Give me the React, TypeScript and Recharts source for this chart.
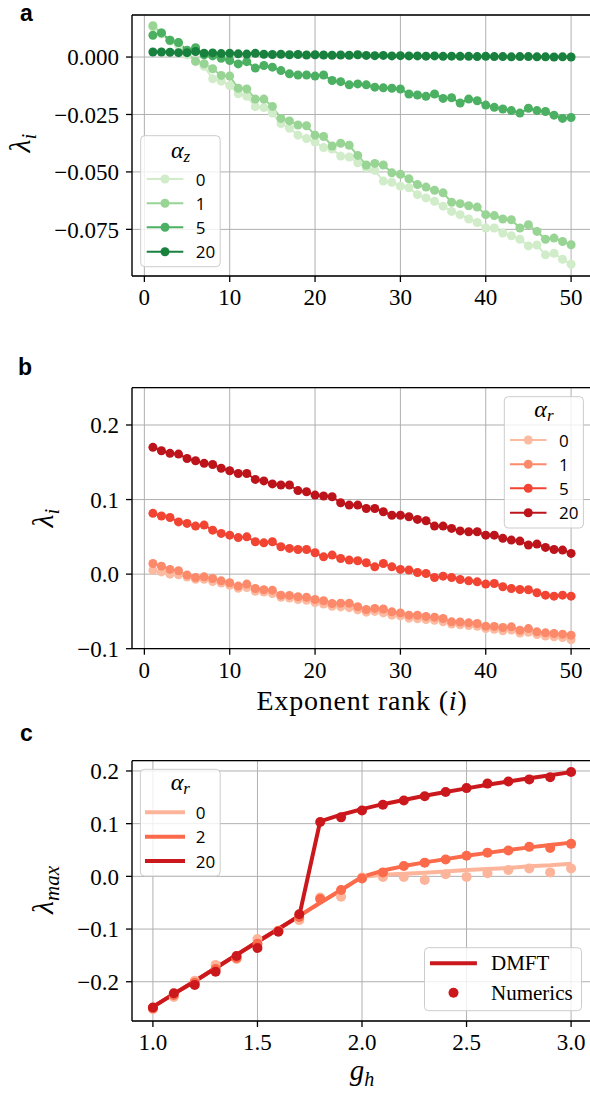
import React from 'react';
import { CartesianGrid, ComposedChart, Legend, Line, LineChart, ReferenceLine, XAxis, YAxis } from 'recharts';

const SERIF = '"Liberation Serif", "Times New Roman", serif';
const SANS = '"Open Sans", "DejaVu Sans", sans-serif';
const BOLD_SANS = '"Liberation Sans", Arial, sans-serif';
const GRID = '#b0b0b0';

// ---- panels a & b: exponent rank i ----
const RANKS = [
  1, 2, 3, 4, 5, 6, 7, 8, 9, 10, 11, 12, 13, 14, 15, 16, 17, 18, 19, 20, 21, 22, 23, 24, 25,
  26, 27, 28, 29, 30, 31, 32, 33, 34, 35, 36, 37, 38, 39, 40, 41, 42, 43, 44, 45, 46, 47, 48, 49, 50,
];
const RANK_TICKS = [0, 10, 20, 30, 40, 50];

// panel a, alpha_z = 0, 1, 5, 20
const ALPHA_Z = ['0', '1', '5', '20'];
const A_Z0 = [
  0.013, 0.01, 0.007, 0.005, 0.001, -0.002, -0.004, -0.0095, -0.0105, -0.0124, -0.016, -0.0171, -0.0216,
  -0.022, -0.0244, -0.029, -0.031, -0.034, -0.0355, -0.037, -0.0394, -0.04, -0.0431, -0.0435, -0.046,
  -0.0482, -0.0493, -0.054, -0.0545, -0.0562, -0.0569, -0.0599, -0.0613, -0.0628, -0.0649, -0.0672,
  -0.0686, -0.0705, -0.072, -0.0744, -0.0744, -0.0766, -0.0778, -0.0793, -0.0822, -0.0818, -0.0861,
  -0.0854, -0.088, -0.0902,
];
const A_Z1 = [
  0.0136, 0.0105, 0.0073, 0.0063, 0.002, -0.0018, -0.0029, -0.0051, -0.008, -0.0083, -0.0136, -0.0139,
  -0.0183, -0.0183, -0.0215, -0.0267, -0.0278, -0.0296, -0.0299, -0.034, -0.0346, -0.0387, -0.0375,
  -0.0384, -0.0428, -0.047, -0.0463, -0.047, -0.0504, -0.051, -0.053, -0.0555, -0.0566, -0.058, -0.0591,
  -0.0632, -0.0638, -0.0647, -0.0653, -0.0686, -0.069, -0.0705, -0.0708, -0.0744, -0.073, -0.0759,
  -0.0793, -0.0788, -0.0803, -0.0817,
];
const A_Z5 = [
  0.0095, 0.0105, 0.0073, 0.0063, 0.003, 0.0041, 0.001, 0.0005, -0.0005, -0.0015, -0.003, -0.002, -0.0048,
  -0.0037, -0.0044, -0.0059, -0.0073, -0.0078, -0.0078, -0.0083, -0.0078, -0.0102, -0.0107, -0.0121,
  -0.0117, -0.0121, -0.0131, -0.0134, -0.0136, -0.0139, -0.0161, -0.0165, -0.0171, -0.0161, -0.018,
  -0.0177, -0.02, -0.0183, -0.019, -0.0209, -0.0219, -0.0226, -0.0233, -0.0244, -0.0223, -0.0233,
  -0.0237, -0.0253, -0.0267, -0.0263,
];
const A_Z20 = [
  0.0022, 0.0022, 0.0021, 0.0019, 0.0019, 0.0024, 0.0017, 0.0018, 0.0015, 0.0016, 0.0014, 0.0013, 0.0016,
  0.0012, 0.0011, 0.0012, 0.001, 0.0011, 0.0009, 0.001, 0.0009, 0.0008, 0.0009, 0.0008, 0.001, 0.0007,
  0.0006, 0.0007, 0.0005, 0.0006, 0.0005, 0.0005, 0.0004, 0.0005, 0.0003, 0.0004, 0.0003, 0.0003, 0.0002,
  0.0003, 0.0002, 0.0002, 0.0001, 0.0002, 0.0002, 0.0001, 0.0001, 0.0, 0.0001, 0.0,
];
const A_TICKS = [-0.075, -0.05, -0.025, 0];

// panel b, alpha_r = 0, 1, 5, 20
const ALPHA_R_B = ['0', '1', '5', '20'];
const B_R0 = [
  0.005, 0.003, 0.0, -0.001, -0.004, -0.007, -0.007, -0.01, -0.012, -0.015, -0.019, -0.018, -0.023, -0.024,
  -0.026, -0.031, -0.032, -0.034, -0.035, -0.038, -0.04, -0.043, -0.044, -0.045, -0.048, -0.051, -0.05,
  -0.052, -0.055, -0.056, -0.059, -0.06, -0.061, -0.062, -0.064, -0.067, -0.068, -0.069, -0.07, -0.073,
  -0.074, -0.076, -0.075, -0.079, -0.078, -0.081, -0.083, -0.084, -0.085, -0.088,
];
const B_R1 = [
  0.0143, 0.0107, 0.0063, 0.0045, -0.0013, -0.0045, -0.0036, -0.0058, -0.009, -0.0116, -0.016, -0.0134,
  -0.0192, -0.021, -0.0215, -0.0282, -0.0285, -0.0304, -0.031, -0.034, -0.0357, -0.0394, -0.039, -0.0392,
  -0.0438, -0.0474, -0.046, -0.0468, -0.0506, -0.052, -0.055, -0.0552, -0.0568, -0.0577, -0.0595, -0.064,
  -0.0642, -0.0653, -0.0662, -0.0698, -0.0701, -0.0716, -0.0707, -0.0752, -0.073, -0.0774, -0.0787,
  -0.0796, -0.0805, -0.0819,
];
const B_R5 = [
  0.0815, 0.078, 0.076, 0.07, 0.068, 0.0644, 0.0658, 0.059, 0.0546, 0.0523, 0.049, 0.05, 0.0434, 0.042,
  0.0434, 0.0367, 0.0345, 0.033, 0.033, 0.0286, 0.0232, 0.0255, 0.021, 0.0188, 0.0179, 0.0152, 0.0098,
  0.0143, 0.0098, 0.0063, 0.0054, 0.0022, 0.0009, -0.0045, -0.0027, -0.0045, -0.0072, -0.009, -0.0103,
  -0.0134, -0.0125, -0.017, -0.0192, -0.0206, -0.021, -0.025, -0.0282, -0.0295, -0.0282, -0.0295,
];
const B_R20 = [
  0.17, 0.1655, 0.162, 0.161, 0.155, 0.152, 0.1486, 0.147, 0.142, 0.1387, 0.135, 0.135, 0.127, 0.125, 0.121,
  0.1195, 0.1195, 0.112, 0.1105, 0.106, 0.1047, 0.1038, 0.0957, 0.0926, 0.0926, 0.088, 0.088, 0.0837,
  0.079, 0.079, 0.077, 0.0734, 0.0716, 0.0644, 0.0644, 0.0613, 0.058, 0.0568, 0.0568, 0.0523, 0.0523,
  0.048, 0.0456, 0.0443, 0.039, 0.0403, 0.0358, 0.033, 0.0322, 0.0278,
];
const B_TICKS = [-0.1, 0, 0.1, 0.2];

// ---- panel c: g_h sweep, alpha_r = 0, 2, 20 ----
const G_H = [1.0, 1.1, 1.2, 1.3, 1.4, 1.5, 1.6, 1.7, 1.8, 1.9, 2.0, 2.1, 2.2, 2.3, 2.4, 2.5, 2.6, 2.7, 2.8, 2.9, 3.0];
const ALPHA_R_C = ['0', '2', '20'];
const DMFT_0 = [
  -0.2476, -0.223, -0.199, -0.174, -0.149, -0.124, -0.1, -0.075, -0.05, -0.026, -0.001, 0.003, 0.005,
  0.007, 0.009, 0.012, 0.014, 0.016, 0.019, 0.021, 0.024,
];
const DMFT_2 = [
  -0.2476, -0.223, -0.199, -0.174, -0.149, -0.124, -0.1, -0.075, -0.05, -0.026, -0.001, 0.011, 0.0195,
  0.0265, 0.0327, 0.039, 0.0446, 0.05, 0.055, 0.0595, 0.064,
];
const DMFT_20 = [
  -0.2476, -0.223, -0.199, -0.174, -0.149, -0.124, -0.1, -0.075, 0.1045, 0.117, 0.1275, 0.137, 0.145,
  0.153, 0.16, 0.167, 0.174, 0.18, 0.186, 0.192, 0.1978,
];
const NUM_0 = [
  -0.252, -0.229, -0.198, -0.168, -0.157, -0.119, -0.104, -0.083, -0.04, -0.0385, -0.002, -0.001, -0.001,
  -0.007, 0.004, -0.001, 0.006, 0.012, 0.015, 0.0075, 0.015,
];
const NUM_2 = [
  -0.25, -0.225, -0.202, -0.176, -0.155, -0.128, -0.103, -0.077, -0.043, -0.026, -0.004, 0.0075, 0.0195,
  0.026, 0.032, 0.039, 0.045, 0.049, 0.056, 0.054, 0.0617,
];
const NUM_20 = [
  -0.249, -0.222, -0.206, -0.181, -0.151, -0.136, -0.105, -0.072, 0.103, 0.112, 0.125, 0.136, 0.144, 0.152,
  0.16, 0.1675, 0.176, 0.18, 0.184, 0.188, 0.198,
];
const C_X_TICKS = [1.0, 1.5, 2.0, 2.5, 3.0];
const C_Y_TICKS = [-0.2, -0.1, 0, 0.1, 0.2];

const GREENS = ['#d0ecc9', '#98d494', '#4bb062', '#17813d'];
const REDS_B = ['#fcbba1', '#fc8a6a', '#f14432', '#bc141a'];
const REDS_C = ['#fcb59a', '#fb6a4a', '#cb181d'];

const dataA = RANKS.map((i, k) => ({ i, s0: A_Z0[k], s1: A_Z1[k], s2: A_Z5[k], s3: A_Z20[k] }));
const dataB = RANKS.map((i, k) => ({ i, s0: B_R0[k], s1: B_R1[k], s2: B_R5[k], s3: B_R20[k] }));
const dataC = G_H.map((g, k) => ({
  g,
  d0: DMFT_0[k], d1: DMFT_2[k], d2: DMFT_20[k],
  n0: NUM_0[k], n1: NUM_2[k], n2: NUM_20[k],
}));

const serif = (size: number, extra: React.CSSProperties = {}): React.CSSProperties => ({
  fontFamily: SERIF, fontSize: size, fill: '#000', ...extra,
});
const minus = (v: number, digits: number) => (v < 0 ? '\u2212' : '') + Math.abs(v).toFixed(digits);

// tick renderers with the serif face forced through inline style
const xTick = (fmt: (v: number) => string) => (props: any) => (
  <text x={props.x} y={props.y} dy="0.71em" textAnchor="middle" style={serif(23)}>{fmt(props.payload.value)}</text>
);
const yTick = (fmt: (v: number) => string) => (props: any) => (
  <text x={props.x} y={props.y} dy="0.355em" textAnchor="end" style={serif(23)}>{fmt(props.payload.value)}</text>
);

const yLabel = (x: number, y: number, sub: string) => () => (
  <text x={x} y={y} transform={`rotate(-90 ${x} ${y})`} textAnchor="middle" style={serif(30, { fontStyle: 'italic' })}>
    λ<tspan style={{ fontSize: 21 }} dy={6}>{sub}</tspan>
  </text>
);

type Box = { x: number; y: number; w: number; h: number };

function Frame({ x, y, w, h }: Box) {
  return <rect x={x} y={y} width={w} height={h} rx={4} fill="#fff" fillOpacity={0.8} stroke="#cccccc" strokeWidth={1} />;
}

function Title({ x, y, sub }: { x: number; y: number; sub: string }) {
  return (
    <text x={x} y={y} textAnchor="middle" style={serif(24, { fontStyle: 'italic' })}>
      α<tspan style={{ fontSize: 17 }} dy={4}>{sub}</tspan>
    </text>
  );
}

const sansStyle: React.CSSProperties = { fontFamily: SANS, fontSize: 17, fill: '#000' };
const letterStyle: React.CSSProperties = { fontFamily: BOLD_SANS, fontWeight: 'bold', fontSize: 23, fill: '#000' };

function MarkerLegend({ box, titleX, titleY, sub, labels, colors, rows, x1, x2, textX }: {
  box: Box; titleX: number; titleY: number; sub: string; labels: string[]; colors: string[];
  rows: number[]; x1: number; x2: number; textX: number;
}) {
  return (
    <g>
      <Frame {...box} />
      <Title x={titleX} y={titleY} sub={sub} />
      {labels.map((lab, k) => (
        <g key={lab}>
          <line x1={x1} x2={x2} y1={rows[k]} y2={rows[k]} stroke={colors[k]} strokeWidth={2} />
          <circle cx={(x1 + x2) / 2} cy={rows[k]} r={4.5} fill={colors[k]} />
          <text x={textX} y={rows[k]} dominantBaseline="central" style={sansStyle}>{lab}</text>
        </g>
      ))}
    </g>
  );
}

function OverlayA() {
  return (
    <svg width={600} height={340} style={{ display: 'block', overflow: 'visible' }}>
      <text x={20} y={21} style={letterStyle}>a</text>
      <MarkerLegend
        box={{ x: 140.7, y: 135.7, w: 79.5, h: 131 }}
        titleX={180.5} titleY={158} sub="z"
        labels={ALPHA_Z} colors={GREENS} rows={[179, 203.3, 227.3, 251.7]}
        x1={146.7} x2={183.3} textX={195.7}
      />
    </svg>
  );
}

function OverlayB() {
  return (
    <svg width={600} height={380} style={{ display: 'block', overflow: 'visible' }}>
      <text x={18} y={35} style={letterStyle}>b</text>
      <MarkerLegend
        box={{ x: 504.3, y: 56.7, w: 79.1, h: 131.3 }}
        titleX={543.9} titleY={77} sub="r"
        labels={ALPHA_R_B} colors={REDS_B} rows={[100, 124.3, 148.3, 172.7]}
        x1={510} x2={546.5} textX={559}
      />
    </svg>
  );
}

function OverlayC() {
  const rows = [92.3, 116.7, 141];
  return (
    <svg width={600} height={373} style={{ display: 'block', overflow: 'visible' }}>
      <text x={20} y={21} style={letterStyle}>c</text>
      <Frame x={140.4} y={49.3} w={79.8} h={106.7} />
      <Title x={180.3} y={70} sub="r" />
      {ALPHA_R_C.map((lab, k) => (
        <g key={lab}>
          <line x1={145} x2={185} y1={rows[k]} y2={rows[k]} stroke={REDS_C[k]} strokeWidth={4} />
          <text x={195.7} y={rows[k]} dominantBaseline="central" style={sansStyle}>{lab}</text>
        </g>
      ))}
      <Frame x={424.5} y={227.7} w={157} h={63} />
      <line x1={430} x2={476.9} y1={243.3} y2={243.3} stroke={REDS_C[2]} strokeWidth={4} />
      <text x={491} y={243.3} dominantBaseline="central" style={serif(21)}>DMFT</text>
      <circle cx={453.5} cy={272.7} r={5} fill={REDS_C[2]} />
      <text x={491} y={272.7} dominantBaseline="central" style={serif(21)}>Numerics</text>
    </svg>
  );
}

const overlayLegend = (h: number, Overlay: () => React.ReactElement) => (
  <Legend
    layout="vertical"
    align="center"
    verticalAlign="middle"
    wrapperStyle={{ left: 0, top: 0, width: 600, height: h, pointerEvents: 'none' }}
    content={() => <Overlay />}
  />
);

function RankPanel({ data, height, top, yDomain, yTicks, digits, colors, yLab, xLabel, Overlay }: {
  data: typeof dataA; height: number; top: number; yDomain: [number, number]; yTicks: number[];
  digits: number; colors: string[]; yLab: [number, number]; xLabel: boolean; Overlay: () => React.ReactElement;
}) {
  const axisH = xLabel ? 60 : 40;
  const plotBottom = height - top - 261;
  return (
    <LineChart width={600} height={height} data={data} margin={{ top, right: 8, bottom: plotBottom - axisH, left: 0 }}>
      <CartesianGrid stroke={GRID} strokeWidth={1} />
      <XAxis
        dataKey="i" type="number" domain={[-1.45, 52.45]} allowDataOverflow ticks={RANK_TICKS} interval={0}
        height={axisH} tickSize={6} tickMargin={7} tick={xTick((v) => String(v))} stroke="#000" strokeWidth={1.3}
        label={xLabel ? () => (
          <text x={362} y={370} textAnchor="middle" style={serif(28, { letterSpacing: 0.8 })}>
            Exponent rank (<tspan style={{ fontStyle: 'italic' }}>i</tspan>)
          </text>
        ) : undefined}
      />
      <YAxis
        type="number" domain={yDomain} allowDataOverflow ticks={yTicks} interval={0} width={132}
        tickSize={6} tickMargin={7} tick={yTick((v) => minus(v, digits))} stroke="#000" strokeWidth={1.3}
        label={yLabel(yLab[0], yLab[1], 'i')}
      />
      <ReferenceLine y={yDomain[1]} stroke="#000" strokeWidth={1.3} />
      {['s0', 's1', 's2', 's3'].map((key, k) => (
        <Line
          key={key} dataKey={key} type="linear" stroke={colors[k]} strokeWidth={2}
          dot={{ r: 4.5, fill: colors[k], stroke: 'none' }} activeDot={false} isAnimationActive={false}
        />
      ))}
      {overlayLegend(height, Overlay)}
    </LineChart>
  );
}

function PanelC() {
  return (
    <ComposedChart width={600} height={373} data={dataC} margin={{ top: 40.7, right: 8, bottom: 12, left: 0 }}>
      <CartesianGrid stroke={GRID} strokeWidth={1} />
      <XAxis
        dataKey="g" type="number" domain={[0.9, 3.1]} allowDataOverflow ticks={C_X_TICKS} interval={0}
        height={60} tickSize={6} tickMargin={7} tick={xTick((v) => v.toFixed(1))} stroke="#000" strokeWidth={1.3}
        label={() => (
          <text x={362} y={360} textAnchor="middle" style={serif(29, { fontStyle: 'italic' })}>
            g<tspan style={{ fontSize: 20 }} dy={6}>h</tspan>
          </text>
        )}
      />
      <YAxis
        type="number" domain={[-0.2745, 0.2195]} allowDataOverflow ticks={C_Y_TICKS} interval={0} width={132}
        tickSize={6} tickMargin={7} tick={yTick((v) => minus(v, 1))} stroke="#000" strokeWidth={1.3}
        label={yLabel(53, 170, 'max')}
      />
      <ReferenceLine y={0.2195} stroke="#000" strokeWidth={1.3} />
      {[0, 1, 2].flatMap((k) => [
        <Line
          key={`d${k}`} dataKey={`d${k}`} type="linear" stroke={REDS_C[k]} strokeWidth={4}
          strokeLinejoin="round" dot={false} activeDot={false} isAnimationActive={false}
        />,
        <Line
          key={`n${k}`} dataKey={`n${k}`} type="linear" stroke="none"
          dot={{ r: 5, fill: REDS_C[k], stroke: 'none' }} activeDot={false} isAnimationActive={false}
        />,
      ])}
      {overlayLegend(373, OverlayC)}
    </ComposedChart>
  );
}

export default function App() {
  return (
    <div style={{ position: 'absolute', left: 0, top: 0, width: 590, height: 1093, overflow: 'hidden', background: '#fff' }}>
      <div style={{ position: 'absolute', left: 0, top: 0 }}>
        <RankPanel
          data={dataA} height={340} top={15} yDomain={[-0.0953, 0.0183]} yTicks={A_TICKS} digits={3}
          colors={GREENS} yLab={[30, 143]} xLabel={false} Overlay={OverlayA}
        />
      </div>
      <div style={{ position: 'absolute', left: 0, top: 340 }}>
        <RankPanel
          data={dataB} height={380} top={47.7} yDomain={[-0.1, 0.25]} yTicks={B_TICKS} digits={1}
          colors={REDS_B} yLab={[53, 178]} xLabel Overlay={OverlayB}
        />
      </div>
      <div style={{ position: 'absolute', left: 0, top: 720 }}>
        <PanelC />
      </div>
    </div>
  );
}
